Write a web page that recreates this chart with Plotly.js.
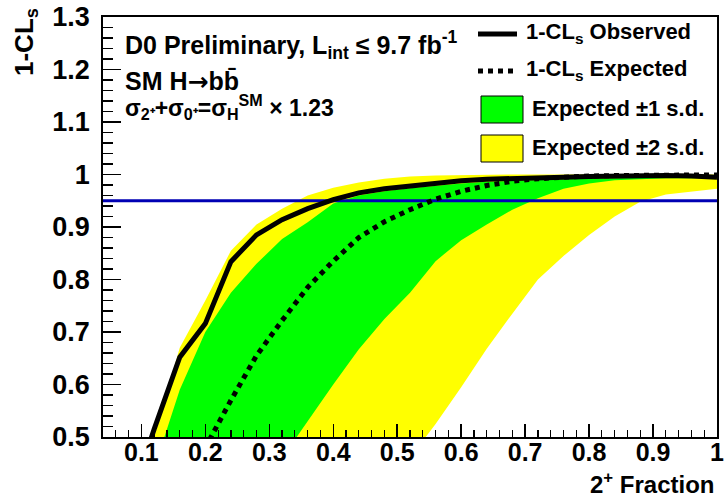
<!DOCTYPE html>
<html>
<head>
<meta charset="utf-8">
<script src="https://cdn.plot.ly/plotly-3.0.1.min.js"></script>
<style>html,body{margin:0;padding:0;background:#fff;}#chart{width:725px;height:502px;}</style>
</head>
<body>
<div id="chart"></div>
<script>
// ---- data ----
const fraction   = [0.04,0.08,0.12,0.16,0.20,0.24,0.28,0.32,0.36,0.40,0.44,0.48,0.52,0.56,0.60,0.64,0.68,0.72,0.76,0.80,0.84,0.88,0.92,0.96,1.00];
const observed   = [0.22,0.37,0.515,0.652,0.716,0.834,0.885,0.914,0.935,0.952,0.965,0.973,0.978,0.984,0.988,0.991,0.993,0.994,0.995,0.996,0.997,0.997,0.998,0.997,0.995];
const expected   = [0.15,0.24,0.32,0.40,0.48,0.57,0.655,0.722,0.785,0.835,0.88,0.91,0.933,0.953,0.968,0.979,0.987,0.992,0.995,0.997,0.998,0.999,0.999,0.999,0.999];
const sigma1Low  = [0.10,0.15,0.20,0.25,0.30,0.35,0.40,0.46,0.53,0.60,0.667,0.725,0.775,0.835,0.875,0.905,0.933,0.955,0.973,0.983,0.989,0.991,0.993,0.993,0.994];
const sigma1High = [0.25,0.36,0.44,0.59,0.70,0.775,0.83,0.877,0.909,0.945,0.96,0.968,0.974,0.979,0.983,0.986,0.988,0.99,0.991,0.992,0.993,0.994,0.995,0.996,0.996];
const sigma2Low  = [0.05,0.08,0.11,0.14,0.17,0.20,0.23,0.26,0.29,0.33,0.37,0.41,0.46,0.525,0.595,0.668,0.735,0.80,0.845,0.885,0.92,0.948,0.962,0.968,0.973];
const sigma2High = [0.30,0.40,0.50,0.67,0.76,0.855,0.905,0.935,0.96,0.975,0.985,0.992,0.996,0.998,0.999,0.999,1.0,1.0,1.0,1.0,1.0,1.0,1.0,1.0,1.0];
const clLevel = 0.95;
const xRange = [0.04, 1.0];
const yRange = [0.5, 1.3];
const xTicks = [0.1,0.2,0.3,0.4,0.5,0.6,0.7,0.8,0.9,1];
const yTicks = [0.5,0.6,0.7,0.8,0.9,1,1.1,1.2,1.3];

// ---- layout helpers ----
const W = 725, H = 502, mL = 103, mR = 8, mT = 17, mB = 65;
const pw = W - mL - mR, ph = H - mT - mB;
const px = x => (x - mL) / pw;
const py = y => (H - mB - y) / ph;
const FONT = 'Liberation Sans, Arial, Helvetica, sans-serif';
const GREEN = '#00ff00', YELLOW = '#ffff00';

const traces = [
  {x: fraction, y: sigma2Low, mode: 'lines', line: {width: 0, color: YELLOW}, showlegend: false, hoverinfo: 'skip'},
  {x: fraction, y: sigma2High, mode: 'lines', fill: 'tonexty', fillcolor: YELLOW, line: {width: 0, color: YELLOW}, name: 'Expected ±2 s.d.', showlegend: false},
  {x: fraction, y: sigma1Low, mode: 'lines', line: {width: 0, color: GREEN}, showlegend: false, hoverinfo: 'skip'},
  {x: fraction, y: sigma1High, mode: 'lines', fill: 'tonexty', fillcolor: GREEN, line: {width: 0, color: GREEN}, name: 'Expected ±1 s.d.', showlegend: false},
  {x: xRange, y: [clLevel, clLevel], mode: 'lines', line: {width: 3, color: '#0000b4'}, showlegend: false, hoverinfo: 'skip'},
  {x: fraction, y: expected, mode: 'lines', line: {width: 5, color: 'black', dash: 'dot'}, name: '1-CLs Expected', showlegend: false},
  {x: fraction, y: observed, mode: 'lines', line: {width: 5, color: 'black'}, name: '1-CLs Observed', showlegend: false}
];

const f = (size) => ({family: FONT, size: size, color: 'black', weight: 'bold'});
const ann = (text, x, y, opts) => Object.assign({
  text, xref: 'paper', yref: 'paper', x: px(x), y: py(y), showarrow: false,
  xanchor: 'left', yanchor: 'middle', font: f(22)
}, opts || {});

const annotations = [
  ann('D0 Preliminary, L<sub>int</sub> ≤ 9.7 fb<sup>-1</sup>', 123, 45, {font: f(25)}),
  ann('SM H<span style="font-family:DejaVu Sans">→</span>bb̄', 123, 81, {font: f(25)}),
  ann('σ<sub>2⁺</sub>+σ<sub>0⁺</sub>=σ<sub>H</sub><sup>SM</sup> × 1.23', 123, 107, {font: f(23)}),
  ann('1-CL<sub>s</sub> Observed', 524, 33, {font: f(22)}),
  ann('1-CL<sub>s</sub> Expected', 524, 70, {font: f(22)}),
  ann('Expected ±1 s.d.', 530, 108, {font: f(22)}),
  ann('Expected ±2 s.d.', 530, 147, {font: f(22)}),
  ann('1-CL<sub>s</sub>', 25, 6, {textangle: -90, xanchor: 'center', yanchor: 'top', font: f(26)}),
  ann('2<sup>+</sup> Fraction', 717, 500, {xanchor: 'right', yanchor: 'bottom', font: f(24)})
];

const shapes = [
  {type: 'line', xref: 'paper', yref: 'paper', x0: px(478), x1: px(517), y0: py(34), y1: py(34), line: {color: 'black', width: 5}},
  {type: 'line', xref: 'paper', yref: 'paper', x0: px(478), x1: px(517), y0: py(71), y1: py(71), line: {color: 'black', width: 5, dash: 'dot'}},
  {type: 'rect', xref: 'paper', yref: 'paper', x0: px(481), x1: px(523), y0: py(96), y1: py(123), fillcolor: GREEN, line: {color: 'black', width: 1}},
  {type: 'rect', xref: 'paper', yref: 'paper', x0: px(481), x1: px(523), y0: py(135), y1: py(162), fillcolor: YELLOW, line: {color: 'black', width: 1}}
];

const layout = {
  width: W, height: H,
  margin: {l: mL, r: mR, t: mT, b: mB, pad: 0},
  paper_bgcolor: 'white', plot_bgcolor: 'white',
  showlegend: false,
  font: {family: FONT, color: 'black'},
  xaxis: {
    range: xRange, tickvals: xTicks, ticks: 'inside', ticklen: 13, tickwidth: 1.5, tickcolor: 'black',
    minor: {dtick: 0.02, ticks: 'inside', ticklen: 7, tickwidth: 1.2, tickcolor: 'black', showgrid: false},
    showgrid: false, zeroline: false, showline: true, mirror: true, linecolor: 'black', linewidth: 1.8,
    tickfont: f(25), ticklabelstandoff: -8
  },
  yaxis: {
    range: yRange, tickvals: yTicks, ticks: 'inside', ticklen: 18, tickwidth: 1.5, tickcolor: 'black',
    minor: {dtick: 0.02, ticks: 'inside', ticklen: 10, tickwidth: 1.2, tickcolor: 'black', showgrid: false},
    showgrid: false, zeroline: false, showline: true, mirror: true, linecolor: 'black', linewidth: 1.8,
    tickfont: f(27), ticklabelstandoff: 6
  },
  annotations, shapes
};

Plotly.newPlot('chart', traces, layout, {displayModeBar: false, staticPlot: true});
</script>
</body>
</html>
